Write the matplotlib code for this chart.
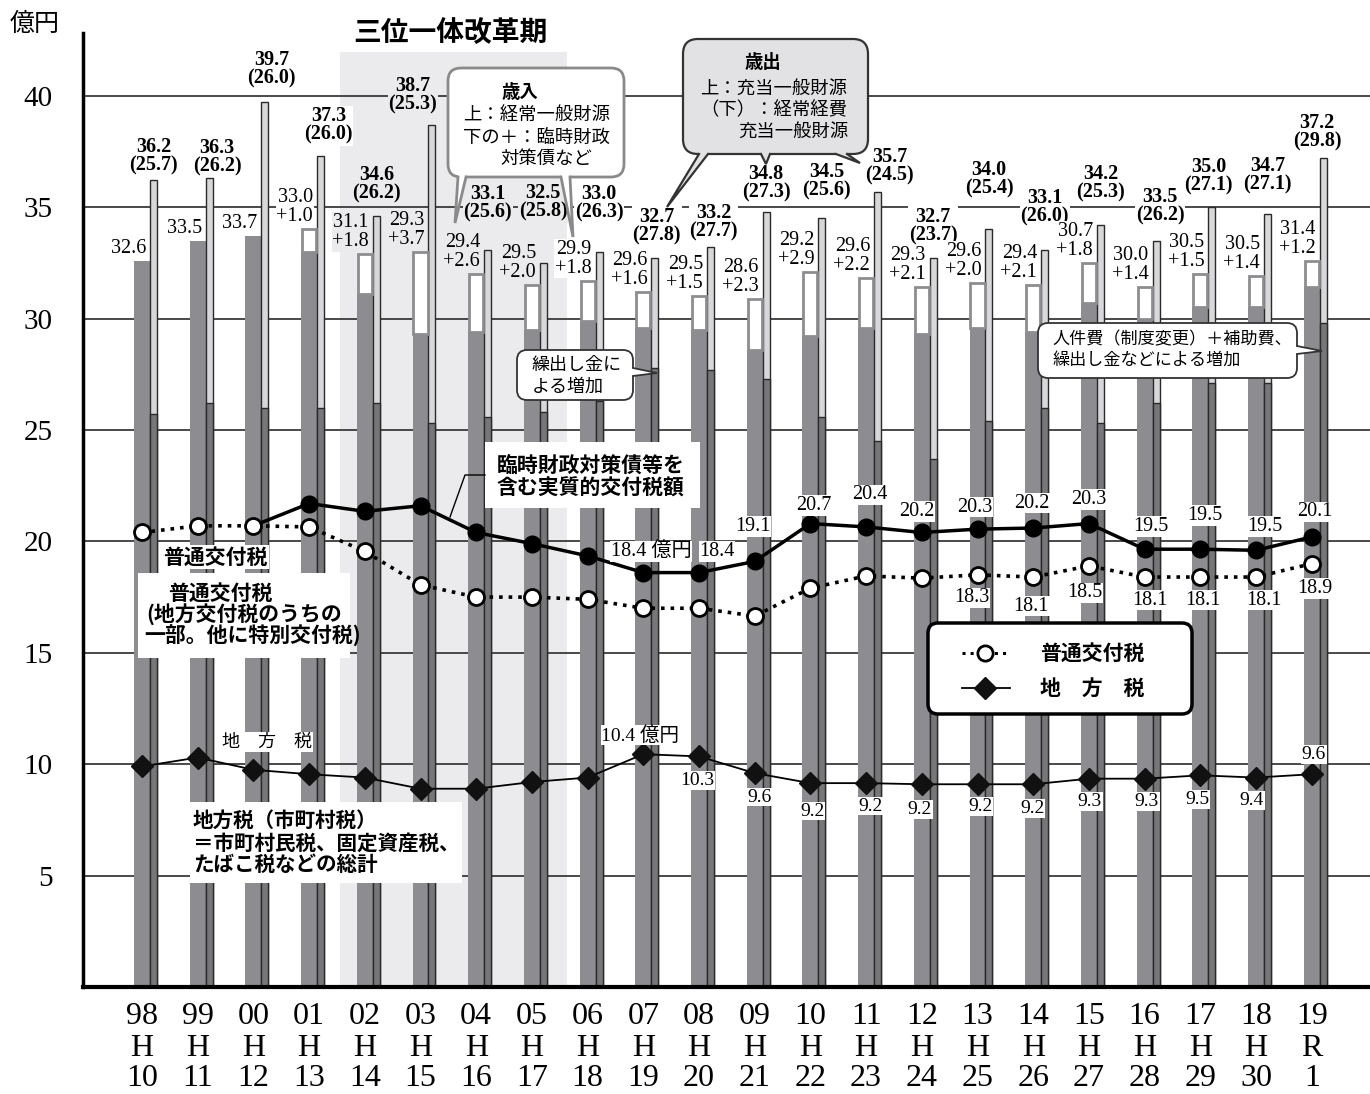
import numpy as np
import matplotlib
matplotlib.use('Agg')
import matplotlib.pyplot as plt
from matplotlib.patches import FancyBboxPatch, Polygon, Rectangle
from matplotlib.transforms import Affine2D, blended_transform_factory
from matplotlib.lines import Line2D

plt.rcParams['font.family'] = ['Liberation Serif', 'Noto Sans CJK JP']

# ---------------- data ----------------
fiscal_year = ['98', '99', '00', '01', '02', '03', '04', '05', '06', '07', '08',
               '09', '10', '11', '12', '13', '14', '15', '16', '17', '18', '19']
era_letter = ['H'] * 21 + ['R']
era_year = ['10', '11', '12', '13', '14', '15', '16', '17', '18', '19', '20',
            '21', '22', '23', '24', '25', '26', '27', '28', '29', '30', '1']

# 歳入: 経常一般財源 / 臨時財政対策債など
rev_regular = [32.6, 33.5, 33.7, 33.0, 31.1, 29.3, 29.4, 29.5, 29.9, 29.6, 29.5,
               28.6, 29.2, 29.6, 29.3, 29.6, 29.4, 30.7, 30.0, 30.5, 30.5, 31.4]
rev_temporary = [0, 0, 0, 1.0, 1.8, 3.7, 2.6, 2.0, 1.8, 1.6, 1.5,
                 2.3, 2.9, 2.2, 2.1, 2.0, 2.1, 1.8, 1.4, 1.5, 1.4, 1.2]
# 歳出: 充当一般財源 / 経常経費充当一般財源
exp_total = [36.2, 36.3, 39.7, 37.3, 34.6, 38.7, 33.1, 32.5, 33.0, 32.7, 33.2,
             34.8, 34.5, 35.7, 32.7, 34.0, 33.1, 34.2, 33.5, 35.0, 34.7, 37.2]
exp_recurring = [25.7, 26.2, 26.0, 26.0, 26.2, 25.3, 25.6, 25.8, 26.3, 27.8, 27.7,
                 27.3, 25.6, 24.5, 23.7, 25.4, 26.0, 25.3, 26.2, 27.1, 27.1, 29.8]
# 普通交付税
futsu_koufu = [20.4, 20.7, 20.7, 20.65, 19.55, 18.05, 17.5, 17.5, 17.4, 17.0, 17.0,
               16.65, 17.9, 18.45, 18.35, 18.5, 18.4, 18.9, 18.4, 18.4, 18.4, 19.0]
futsu_koufu_label = [''] * 15 + ['18.3', '18.1', '18.5', '18.1', '18.1', '18.1', '18.9']
# 臨時財政対策債等を含む実質的交付税額
real_koufu = [np.nan, np.nan, 20.7, 21.7, 21.35, 21.6, 20.4, 19.9, 19.35, 18.6, 18.6,
              19.1, 20.8, 20.65, 20.4, 20.55, 20.6, 20.8, 19.65, 19.65, 19.6, 20.2]
real_koufu_label = [''] * 9 + ['18.4 億円', '18.4', '19.1', '20.7', '20.4', '20.2', '20.3',
                               '20.2', '20.3', '19.5', '19.5', '19.5', '20.1']
# 地方税
local_tax = [9.9, 10.3, 9.75, 9.55, 9.4, 8.9, 8.9, 9.2, 9.4, 10.45, 10.35,
             9.6, 9.15, 9.15, 9.1, 9.1, 9.1, 9.35, 9.35, 9.5, 9.4, 9.55]
local_tax_label = [''] * 9 + ['10.4 億円', '10.3', '9.6', '9.2', '9.2', '9.2', '9.2', '9.2',
                              '9.3', '9.3', '9.5', '9.4', '9.6']

# ---------------- layout (pixel offsets of labels) ----------------
exp_label_lift = [4.5, 2, 14, 11, 13, 10, 27, 41, 29, 13, 6, 9, 18, 6, 13, 31, 23, 23, 15, 12, 19, 7]
exp_label_dx = {1: 8, 2: 7, 3: 8, 5: -19, 9: 2, 10: 3, 12: 5, 13: 12, 18: 4, 19: -3, 21: -6}
real_off = {9: (8, 21), 10: (18, 21), 11: (-2, 35), 12: (3, 18), 13: (4, 32), 14: (-5, 21),
            15: (-3, 22), 16: (-1, 25), 17: (0, 24), 18: (6, 23), 19: (5, 34), 20: (9, 24), 21: (3, 25)}
koufu_off = {15: (-6, -23), 16: (-2, -29), 17: (-4, -27), 18: (5, -23), 19: (3, -23), 20: (8, -23), 21: (3, -25)}
local_off = {9: (-3, 19), 10: (-2, -24), 11: (5, -24), 12: (2, -28), 13: (4, -23), 14: (-2, -25),
             15: (3, -22), 16: (-1, -24), 17: (1, -23), 18: (2, -23), 19: (-3, -24), 20: (-4, -23), 21: (2, 20)}

W, H = 1370, 1094
fig = plt.figure(figsize=(W / 100, H / 100), dpi=100)
T = Affine2D().scale(1, -1).translate(0, H).scale(1 / 100) + fig.dpi_scale_trans

ax = fig.add_axes([83 / W, (H - 987) / H, (W - 83) / W, (987 - 33) / H])
n = len(fiscal_year)
x = np.arange(n)
step = 55.7
ax.set_xlim(-(142 - 83) / step, (W - 142) / step)
ax.set_ylim(0, (987 - 33) / 22.28)

BAND = '#ebebed'
DARK = '#8d8d91'
DARK2 = '#77777a'
LIGHT = '#d8d8da'

# band 三位一体改革期
ax.add_patch(Rectangle((340, 52), 227, 935, transform=T, fc=BAND, ec='none', zorder=0.5))

for v in range(5, 45, 5):
    ax.axhline(v, color='#3a3a3a', lw=1.3, zorder=1)

rr = np.array(rev_regular)
rt = np.array(rev_temporary)
wl, wr, off = 0.287, 0.126, 0.206
ax.bar(x, rr, width=wl, color=DARK, zorder=2)
m = rt > 0
ax.bar(x[m], rt[m], bottom=rr[m], width=wl - 0.035, color='white', edgecolor=DARK, lw=2.0, zorder=2.2)
ax.bar(x + off, exp_total, width=wr, color=LIGHT, edgecolor='#2a2a2a', lw=1.0, zorder=2)
ax.bar(x + off, exp_recurring, width=wr, color=DARK2, edgecolor='#2a2a2a', lw=1.0, zorder=2.1)

# lines
ax.plot(x, futsu_koufu, ls=':', color='black', lw=2.6, zorder=4)
ax.plot(x, futsu_koufu, ls='none', marker='o', ms=11.5, mfc='white', mec='black', mew=2, zorder=6)
rk = np.array(real_koufu)
ax.plot(x, rk, color='black', lw=2.5, zorder=5)
ax.plot(x[3:], rk[3:], ls='none', marker='o', ms=12, color='black', zorder=6)
ax.plot(x, local_tax, color='black', lw=1.3, zorder=4)
ax.plot(x, local_tax, ls='none', marker='D', ms=11.5, color='#111111', zorder=6)

for s in ['top', 'right']:
    ax.spines[s].set_visible(False)
ax.spines['left'].set_linewidth(2.5)
ax.spines['bottom'].set_linewidth(3)
ax.set_yticks(range(5, 41, 5))
ax.tick_params(axis='y', length=0, pad=22, labelsize=21)
ax.set_xticks([])


def ann(xv, yv, s, dx, dy, **kw):
    ax.annotate(s, (xv, yv), xytext=(dx * 0.72, dy * 0.72), textcoords='offset points', **kw)


def in_band(i):
    return 4 <= i <= 7


# bar labels
for i in range(n):
    bg = BAND if in_band(i) else 'white'
    top = rr[i] + rt[i]
    s = f'{rev_regular[i]:.1f}' if rt[i] == 0 else f'{rev_regular[i]:.1f}\n+{rev_temporary[i]:.1f}'
    ann(x[i], top, s, 4, 3, ha='right', va='bottom', fontsize=14.5, linespacing=1.0, zorder=7,
        bbox=dict(fc=bg, ec='none', pad=0.5))
    s2 = f'{exp_total[i]:.1f}\n({exp_recurring[i]:.1f})'
    ann(x[i] + off, exp_total[i], s2, exp_label_dx.get(i, 0), exp_label_lift[i], ha='center', va='bottom',
        fontsize=14.5, fontweight='bold', linespacing=0.9, zorder=7, bbox=dict(fc=bg, ec='none', pad=0.5))

# line labels
for i in range(n):
    if real_koufu_label[i]:
        dx, dy = real_off[i]
        ann(x[i], rk[i], real_koufu_label[i], dx, dy, ha='center', va='center', fontsize=14.5, zorder=7,
            bbox=dict(fc='white', ec='none', pad=0.6))
    if futsu_koufu_label[i]:
        dx, dy = koufu_off[i]
        ann(x[i], futsu_koufu[i], futsu_koufu_label[i], dx, dy, ha='center', va='center', fontsize=14.5, zorder=7,
            bbox=dict(fc='white', ec='none', pad=0.6))
    if local_tax_label[i]:
        dx, dy = local_off[i]
        ann(x[i], local_tax[i], local_tax_label[i], dx, dy, ha='center', va='center', fontsize=14, zorder=7,
            bbox=dict(fc='white', ec='none', pad=0.6))

# x tick labels (3 rows)
bt = blended_transform_factory(ax.transData, T)
for i in range(n):
    for yy, s in zip((1016, 1048, 1078), (fiscal_year[i], era_letter[i], era_year[i])):
        ax.text(x[i], yy, s, transform=bt, ha='center', va='center', fontsize=23, clip_on=False)

JP = ['Noto Sans CJK JP']


def ptext(xp, yp, s, size, bold=False, ha='left', bg=None, z=9):
    kw = {}
    if bg:
        kw['bbox'] = dict(fc=bg, ec='none', pad=1)
    ax.text(xp, yp, s, transform=T, ha=ha, va='center', fontsize=size, family=JP,
            fontweight='bold' if bold else 'normal', zorder=z, clip_on=False, **kw)


def callout(x0, y0, x1, y1, tails, fc, ec, lw, r):
    ax.add_patch(FancyBboxPatch((x0, y0), x1 - x0, y1 - y0, boxstyle=f'round,pad=0,rounding_size={r}',
                                transform=T, fc=fc, ec=ec, lw=lw, zorder=8, clip_on=False))
    for b1, b2, tip, inw in tails:
        p1 = (b1[0] + inw[0], b1[1] + inw[1])
        p2 = (b2[0] + inw[0], b2[1] + inw[1])
        ax.add_patch(Polygon([p1, b1, tip, b2, p2], closed=True, transform=T, fc=fc, ec='none',
                             zorder=8.5, clip_on=False))
        ax.add_line(Line2D([b1[0], tip[0], b2[0]], [b1[1], tip[1], b2[1]], transform=T, color=ec,
                           lw=lw, zorder=8.6, clip_on=False, solid_joinstyle='miter'))


# axis unit & title
ptext(35, 24, '億円', 18, ha='center')
ptext(450, 33, '三位一体改革期', 20, bold=True, ha='center')

# 歳入 callout
callout(448, 68, 624, 177,
        [((458, 177), (466, 177), (455, 223), (0, -5)), ((561, 177), (570, 177), (573, 237), (0, -5))],
        'white', '#8a8a8a', 2.0, 13)
ptext(520, 92, '歳入', 13.2, bold=True, ha='center')
ptext(463, 116, '上：経常一般財源', 13.2)
ptext(463, 138, '下の＋：臨時財政', 13.2)
ptext(500, 159, '対策債など', 13.2)

# 歳出 callout
callout(683, 39, 868, 154,
        [((699, 154), (708, 154), (667, 207), (0, -5)),
         ((761, 154), (770, 154), (766, 164), (0, -5)),
         ((836, 154), (847, 154), (860, 163), (0, -5))],
        '#e2e2e4', '#333333', 1.6, 15)
ptext(763, 63, '歳出', 13.2, bold=True, ha='center')
ptext(700, 89, '上：充当一般財源', 13.2)
ptext(700, 110, '（下）：経常経費', 13.2)
ptext(738, 132, '充当一般財源', 13.2)

# 繰出し金による増加
callout(517, 350, 633, 400, [((633, 368), (633, 376), (657, 373), (-5, 0))], 'white', '#333333', 1.3, 10)
ptext(532, 365, '繰出し金に', 13)
ptext(532, 387, 'よる増加', 13)

# 人件費 callout
callout(1038, 323, 1297, 378, [((1297, 346), (1297, 354), (1322, 351), (-5, 0))], 'white', '#333333', 1.3, 10)
ptext(1052, 339, '人件費（制度変更）＋補助費、', 12.3)
ptext(1052, 360, '繰出し金などによる増加', 12.3)

# 臨時財政対策債等を含む実質的交付税額
ax.add_patch(Rectangle((485, 442), 215, 66, transform=T, fc='white', ec='none', zorder=7.5))
ptext(497, 465, '臨時財政対策債等を', 15, bold=True)
ptext(497, 488, '含む実質的交付税額', 15, bold=True)
ax.add_line(Line2D([485, 465, 450], [475, 475, 517], transform=T, color='black', lw=1.0, zorder=7.6))

# 普通交付税 labels
ptext(215, 557, '普通交付税', 15, bold=True, ha='center', bg='white')
ax.add_patch(Rectangle((138, 573), 212, 85, transform=T, fc='white', ec='none', zorder=7.5))
ptext(168, 593, '普通交付税', 15, bold=True)
ptext(146, 615, '(地方交付税のうちの', 15, bold=True)
ptext(144, 636, '一部。他に特別交付税)', 15, bold=True)

# 地方税 labels
ptext(267, 742, '地　方　税', 13, ha='center', bg='white')
ax.add_patch(Rectangle((190, 802), 272, 81, transform=T, fc='white', ec='none', zorder=7.5))
ptext(193, 820, '地方税（市町村税）', 14.8, bold=True)
ptext(193, 843, '＝市町村民税、固定資産税、', 14.8, bold=True)
ptext(193, 864, 'たばこ税などの総計', 14.8, bold=True)

# legend
callout(928, 623, 1192, 714, [], 'white', 'black', 2.5, 10)
ax.add_line(Line2D([962, 1010], [653, 653], transform=T, color='black', lw=2.2, ls=':', zorder=9, clip_on=False))
ax.add_line(Line2D([985], [653], transform=T, ls='none', marker='o', ms=11, mfc='white', mec='black', mew=2,
                   zorder=9.5, clip_on=False))
ax.add_line(Line2D([962, 1010], [688, 688], transform=T, color='black', lw=1.3, zorder=9, clip_on=False))
ax.add_line(Line2D([985], [688], transform=T, ls='none', marker='D', ms=11.5, color='#111111',
                   zorder=9.5, clip_on=False))
ptext(1040, 653, '普通交付税', 15, bold=True)
ptext(1040, 688, '地　方　税', 15, bold=True)

fig.savefig('out.png', dpi=100)
